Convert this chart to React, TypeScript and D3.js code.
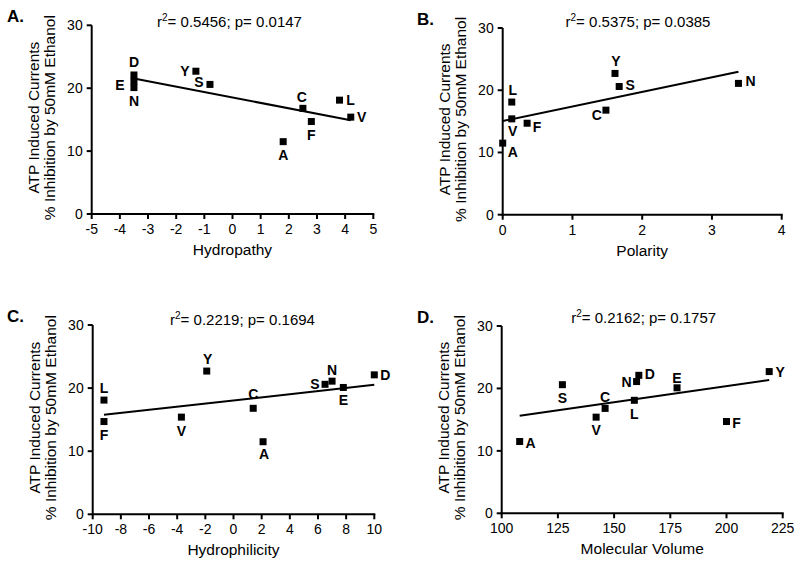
import React from "react";
import * as d3 from "d3";

// ---- Data ----
const residues = ["A", "C", "D", "E", "F", "L", "N", "S", "V", "Y"];
const inhibition = [11.5, 16.8, 22.1, 20.1, 14.7, 18.1, 21.1, 20.6, 15.4, 22.7];
const hydropathy = [1.8, 2.5, -3.5, -3.5, 2.8, 3.8, -3.5, -0.8, 4.2, -1.3];
const polarity: (number | null)[] = [0, 1.48, null, null, 0.35, 0.13, 3.38, 1.67, 0.13, 1.61];
const hydrophilicity = [2.1, 1.4, 10.0, 7.8, -9.2, -9.2, 7.0, 6.5, -3.7, -1.9];
const molecularVolume = [108, 146, 161, 178, 200, 159, 160, 127, 142, 219];

const rSquared = ["0.5456", "0.5375", "0.2219", "0.2162"];
const pValues = ["0.0147", "0.0385", "0.1694", "0.1757"];
const panelLetters = ["A.", "B.", "C.", "D."];
const xTitles = ["Hydropathy", "Polarity", "Hydrophilicity", "Molecular Volume"];
const xDomains: [number, number][] = [[-5, 5], [0, 4], [-10, 10], [100, 225]];
const xTickSteps = [1, 1, 2, 25];
const yTicks = [0, 10, 20, 30];
const yTitleLines = ["ATP Induced Currents", "% Inhibition by 50mM Ethanol"];

// ---- Layout (positions / styling only) ----
const layout = [
  { x0: 91.7, x1: 373.3, yb: 214, yt: 25.3, letter: [7, 21.5], title: [229.5, 26.5] },
  { x0: 502.7, x1: 781.7, yb: 214.7, yt: 28, letter: [417, 25], title: [638, 26.7] },
  { x0: 92.7, x1: 374.3, yb: 514.3, yt: 325, letter: [7, 321.7], title: [242.5, 325] },
  { x0: 501.7, x1: 782.7, yb: 513.3, yt: 326, letter: [417, 323], title: [643.7, 323.3] },
];

const labelOffsets: Record<string, [number, number]>[] = [
  { D: [0, -12.5], E: [-14, -3], N: [0, 20], Y: [-11, 0], S: [-11, -2], C: [-1, -11], F: [0, 13.5], A: [0, 13.5], L: [11, 0], V: [11, 0] },
  { A: [10, 9], L: [1, -12], V: [1, 12], F: [10, 4], C: [-9, 5], Y: [1, -12], S: [11, -1.5], N: [12, -2] },
  { L: [0, -12], F: [0, 13.5], V: [0, 13.5], Y: [1, -12], C: [0, -14], A: [1, 12.5], S: [-10, 0], N: [0, -11], E: [0, 13], D: [11, 0] },
  { A: [11, 1], S: [0, 13], V: [0, 13], C: [0, -11], L: [0, 14], N: [-10, 0], D: [11, -1], E: [0, -10], F: [10, 1], Y: [11, 0] },
];

const xSeries: (number | null)[][] = [hydropathy, polarity, hydrophilicity, molecularVolume];

const FONT = "'Liberation Sans', Arial, Helvetica, sans-serif";
const MARK = 7;

function Panel({ i }: { i: number }) {
  const L = layout[i];
  const x = d3.scaleLinear().domain(xDomains[i]).range([L.x0, L.x1]);
  const y = d3.scaleLinear().domain([0, 30]).range([L.yb, L.yt]);
  const [d0, d1] = xDomains[i];
  const xt = d3.range(d0, d1 + xTickSteps[i] / 2, xTickSteps[i]);

  const pts = residues
    .map((r, k) => ({ r, xv: xSeries[i][k], yv: inhibition[k] }))
    .filter((p) => p.xv !== null && p.xv !== undefined) as { r: string; xv: number; yv: number }[];

  const mx = d3.mean(pts, (p) => p.xv)!;
  const my = d3.mean(pts, (p) => p.yv)!;
  const sxy = d3.sum(pts, (p) => (p.xv - mx) * (p.yv - my));
  const sxx = d3.sum(pts, (p) => (p.xv - mx) * (p.xv - mx));
  const slope = sxy / sxx;
  const icpt = my - slope * mx;
  const [minX, maxX] = d3.extent(pts, (p) => p.xv) as [number, number];
  const line = d3.line<number>().x((v) => x(v)).y((v) => y(icpt + slope * v));

  const midY = (L.yb + L.yt) / 2 - 2;
  const midX = (L.x0 + L.x1) / 2;

  return (
    <g fontFamily={FONT} fill="#000">
      <text x={L.letter[0]} y={L.letter[1]} fontSize={17} fontWeight="bold">
        {panelLetters[i]}
      </text>
      <text x={L.title[0]} y={L.title[1]} fontSize={15} textAnchor="middle">
        r<tspan fontSize={10} dy={-6}>2</tspan>
        <tspan dy={6}>= {rSquared[i]}; p= {pValues[i]}</tspan>
      </text>
      {/* axes */}
      <line x1={L.x0} x2={L.x0} y1={y(0) + 1} y2={y(30)} stroke="#000" strokeWidth={2} />
      <line x1={L.x0 - 1} x2={L.x1 + 1} y1={y(0)} y2={y(0)} stroke="#000" strokeWidth={2} />
      {yTicks.map((t) => (
        <g key={"y" + t}>
          <line x1={L.x0 - 5} x2={L.x0} y1={y(t)} y2={y(t)} stroke="#000" strokeWidth={2} />
          <text x={L.x0 - 9} y={y(t) + 5} fontSize={14} textAnchor="end">
            {t}
          </text>
        </g>
      ))}
      {xt.map((t) => (
        <g key={"x" + t}>
          <line x1={x(t)} x2={x(t)} y1={y(0)} y2={y(0) + 5} stroke="#000" strokeWidth={2} />
          <text x={x(t)} y={y(0) + 20} fontSize={14} textAnchor="middle">
            {t < 0 ? "-" + Math.abs(t) : String(t)}
          </text>
        </g>
      ))}
      <text x={midX} y={L.yb + 41} fontSize={15.5} textAnchor="middle">
        {xTitles[i]}
      </text>
      <g transform={`translate(${L.x0 - 58},${midY}) rotate(-90)`}>
        <text x={0} y={5} fontSize={15.5} textAnchor="middle">
          {yTitleLines[0]}
        </text>
      </g>
      <g transform={`translate(${L.x0 - 41.5},${midY}) rotate(-90)`}>
        <text x={0} y={5} fontSize={15.5} textAnchor="middle">
          {yTitleLines[1]}
        </text>
      </g>
      {/* regression */}
      <path d={line([minX, maxX]) || ""} stroke="#000" strokeWidth={2} fill="none" />
      {/* points */}
      {pts.map((p) => (
        <rect
          key={"p" + p.r}
          x={x(p.xv) - MARK / 2}
          y={y(p.yv) - MARK / 2}
          width={MARK}
          height={MARK}
          fill="#000"
        />
      ))}
      {pts.map((p) => {
        const off = labelOffsets[i][p.r] || [0, -12];
        return (
          <text
            key={"l" + p.r}
            x={x(p.xv) + off[0]}
            y={y(p.yv) + off[1] + 5}
            fontSize={14}
            fontWeight="bold"
            textAnchor="middle"
          >
            {p.r}
          </text>
        );
      })}
    </g>
  );
}

export default function App() {
  return (
    <svg
      width={800}
      height={565}
      viewBox="0 0 800 565"
      style={{ position: "absolute", left: 0, top: 0, background: "#fff", display: "block" }}
    >
      <rect width={800} height={565} fill="#fff" />
      {[0, 1, 2, 3].map((i) => (
        <Panel key={i} i={i} />
      ))}
    </svg>
  );
}
